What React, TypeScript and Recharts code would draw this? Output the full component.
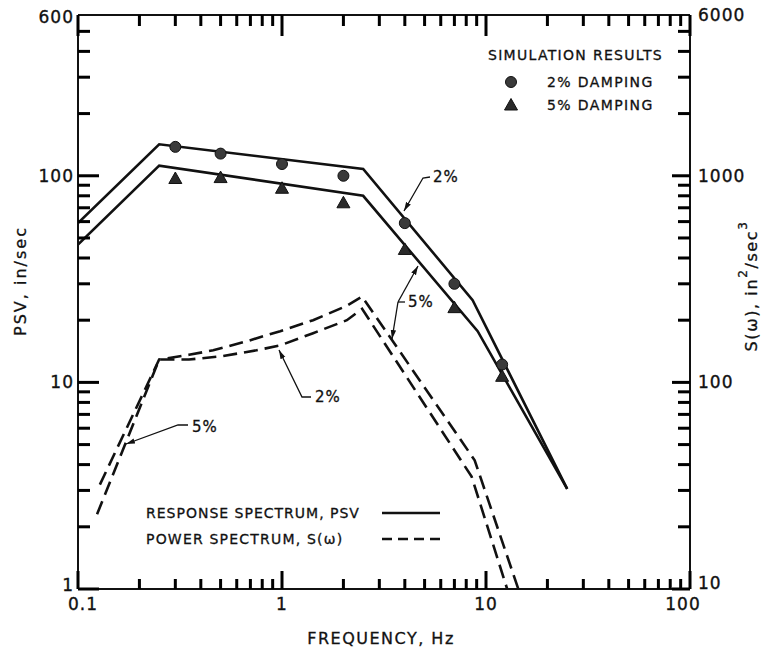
import React from "react";
import { ComposedChart, Line, Scatter, XAxis, YAxis } from "recharts";

// response spectrum PSV (in/sec), straight-line fits
const psv2Freq = [0.1, 0.25, 2.5, 8.6, 25];
const psv2Vals = [59, 142, 108, 25, 3.05];
const psv5Freq = [0.1, 0.25, 2.5, 9.1, 25];
const psv5Vals = [46.5, 112, 80, 17.7, 3.05];

// power spectrum S(w) (in^2/sec^3), read on right axis
const ps5Freq = [0.128, 0.25, 0.35, 0.46, 0.67, 0.98, 1.42, 2.08, 2.47, 8.8, 14.4];
const ps5Vals = [32, 129, 136, 143, 158, 177, 200, 235, 260, 42, 10];
const ps2Freq = [0.124, 0.25, 0.35, 0.51, 0.75, 0.98, 1.42, 2.08, 2.47, 8.5, 12.7];
const ps2Vals = [23, 129, 129, 134, 143, 151, 173, 200, 227, 35, 10];

// simulation results
const simFreq = [0.3, 0.5, 1, 2, 4, 7, 12];
const sim2Vals = [138, 128, 114, 100, 59, 30, 12.2];
const sim5Vals = [97, 98, 87, 74, 44, 23, 10.7];

const xTicks = [
  0.1, 0.2, 0.3, 0.4, 0.5, 0.6, 0.7, 0.8, 0.9,
  1, 2, 3, 4, 5, 6, 7, 8, 9,
  10, 20, 30, 40, 50, 60, 70, 80, 90, 100,
];
const xMajor = [0.1, 1, 10, 100];
const xLabels = ["0.1", "1", "10", "100"];

const leftTicks = [
  1, 2, 3, 4, 5, 6, 7, 8, 9,
  10, 20, 30, 40, 50, 60, 70, 80, 90,
  100, 200, 300, 400, 500, 600,
];
const leftMajor = [1, 10, 100, 600];
const leftLabels = ["1", "10", "100", "600"];

const rightTicks = [
  10, 20, 30, 40, 50, 60, 70, 80, 90,
  100, 200, 300, 400, 500, 600, 700, 800, 900,
  1000, 2000, 3000, 4000, 5000, 6000,
];
const rightMajor = [10, 100, 1000, 6000];
const rightLabels = ["10", "100", "1000", "6000"];

const ink = "#111";
const font = "'DejaVu Sans', sans-serif";

// plot box (matches chart margins + axis sizes below)
const W = 763;
const H = 652;
const M = { top: 5, right: 13, bottom: 33, left: 38 };
const LEFT_W = 40;
const RIGHT_W = 60;
const TOP_H = 10;
const BOTTOM_H = 30;
const PL = M.left + LEFT_W;
const PR = W - M.right - RIGHT_W;
const PT = M.top + TOP_H;
const PB = H - M.bottom - BOTTOM_H;

const X_DOM = [0.1, 100];
const L_DOM = [1, 600];
const R_DOM = [10, 6000];

const logPos = (v: number, d: number[], a: number, b: number) =>
  a + ((Math.log10(v) - Math.log10(d[0])) / (Math.log10(d[1]) - Math.log10(d[0]))) * (b - a);

const zip = (fs: number[], vs: number[]) => fs.map((f, i) => ({ f, v: vs[i] }));

const near = (a: number, b: number) => Math.abs(a - b) < 1e-6 * Math.max(1, b);
const labelOf = (v: number, majors: number[], labels: string[]) => {
  const i = majors.findIndex((m) => near(v, m));
  return i >= 0 ? labels[i] : null;
};

const tickText = {
  fontFamily: font,
  fontSize: 17,
  letterSpacing: 1,
  fill: ink,
  stroke: ink,
  strokeWidth: 0.35,
};

function bottomTick(props: any) {
  const v = props.payload.value;
  const label = labelOf(v, xMajor, xLabels);
  if (!label) return <g />;
  // corner labels sit slightly inside, as in the original
  const dx = near(v, 0.1) ? 5 : near(v, 100) ? -7 : 0;
  return (
    <text x={Number(props.x) + dx} y={Number(props.y) + 15} textAnchor="middle" dominantBaseline="central" {...tickText}>
      {label}
    </text>
  );
}

function leftTick(props: any) {
  const v = props.payload.value;
  const label = labelOf(v, leftMajor, leftLabels);
  if (!label) return <g />;
  const dy = near(v, 1) ? -4 : near(v, 600) ? 2 : 0;
  return (
    <text x={Number(props.x) - 4} y={Number(props.y) + dy} textAnchor="end" dominantBaseline="central" {...tickText}>
      {label}
    </text>
  );
}

function rightTick(props: any) {
  const v = props.payload.value;
  const label = labelOf(v, rightMajor, rightLabels);
  if (!label) return <g />;
  const dy = near(v, 10) ? -6 : 0;
  return (
    <text x={Number(props.x) + 8} y={Number(props.y) + dy} textAnchor="start" dominantBaseline="central" {...tickText}>
      {label}
    </text>
  );
}

function Dot(props: any) {
  const { cx, cy } = props;
  return <circle cx={cx} cy={cy} r={5.5} fill="#3a3a3a" stroke={ink} strokeWidth={1} />;
}

function Tri(props: any) {
  const { cx, cy } = props;
  const pts = `${cx},${cy - 6.5} ${cx - 6.5},${cy + 5} ${cx + 6.5},${cy + 5}`;
  return <polygon points={pts} fill="#2a2a2a" stroke={ink} strokeWidth={1} />;
}

const txt = { fontFamily: font, fill: ink, stroke: ink, strokeWidth: 0.3 } as const;

// inward tick marks along the four sides of the plot box
function TickMarks() {
  const marks: React.ReactNode[] = [];
  const T = 3;
  const bar = (key: string, x: number, y: number, w: number, h: number) => (
    <rect key={key} x={x} y={y} width={w} height={h} fill="#000" />
  );
  xTicks.forEach((t, i) => {
    const x = logPos(t, X_DOM, PL, PR) - T / 2;
    const major = labelOf(t, xMajor, xLabels);
    const lb = major ? 18 : 10;
    const lt = major ? 21 : 11;
    marks.push(bar(`b${i}`, x, PB - lb, T, lb));
    marks.push(bar(`t${i}`, x, PT, T, lt));
  });
  leftTicks.forEach((t, i) => {
    if (near(t, L_DOM[1])) return;
    const y = logPos(t, L_DOM, PB, PT) - T / 2;
    const len = labelOf(t, leftMajor, leftLabels) ? 21 : 12;
    marks.push(bar(`l${i}`, PL, y, len, T));
  });
  rightTicks.forEach((t, i) => {
    if (near(t, R_DOM[1])) return;
    const y = logPos(t, R_DOM, PB, PT) - T / 2;
    const len = labelOf(t, rightMajor, rightLabels) ? 18 : 12;
    marks.push(bar(`r${i}`, PR - len, y, len, T));
  });
  return <g>{marks}</g>;
}

function Overlay() {
  return (
    <svg width={W} height={H} style={{ position: "absolute", left: 0, top: 0, pointerEvents: "none" }}>
      <defs>
        <marker
          id="arr"
          viewBox="0 0 10 6"
          refX={10}
          refY={3}
          markerWidth={9}
          markerHeight={6}
          markerUnits="userSpaceOnUse"
          orient="auto"
        >
          <path d="M0,0 L10,3 L0,6 z" fill={ink} />
        </marker>
      </defs>

      <TickMarks />

      {/* axis titles */}
      <text
        {...txt}
        fontSize={16}
        letterSpacing={2}
        textAnchor="middle"
        dominantBaseline="central"
        transform="translate(20,281) rotate(-90)"
      >
        PSV,  in/sec
      </text>
      <text
        {...txt}
        fontSize={16}
        letterSpacing={1.6}
        textAnchor="middle"
        dominantBaseline="central"
        transform="translate(751,286) rotate(-90)"
      >
        S(ω),  in<tspan dy={-8} fontSize={12}>2</tspan>
        <tspan dy={8}>/sec</tspan>
        <tspan dy={-8} fontSize={12}>3</tspan>
      </text>
      <text {...txt} x={381} y={638} fontSize={16} letterSpacing={1.5} textAnchor="middle" dominantBaseline="central">
        FREQUENCY,  Hz
      </text>

      {/* simulation legend */}
      <text {...txt} x={488} y={55} fontSize={14} letterSpacing={1.3} dominantBaseline="central">
        SIMULATION  RESULTS
      </text>
      <circle cx={511} cy={82} r={5.5} fill="#3a3a3a" stroke={ink} />
      <text {...txt} x={547} y={82} fontSize={14} letterSpacing={1.4} dominantBaseline="central">
        2%  DAMPING
      </text>
      <polygon points="511,98.5 504.5,110 517.5,110" fill="#2a2a2a" stroke={ink} />
      <text {...txt} x={547} y={105} fontSize={14} letterSpacing={1.4} dominantBaseline="central">
        5%  DAMPING
      </text>

      {/* line legend */}
      <text {...txt} x={146} y={513} fontSize={14} letterSpacing={1} dominantBaseline="central">
        RESPONSE  SPECTRUM, PSV
      </text>
      <line x1={382} x2={440} y1={513} y2={513} stroke={ink} strokeWidth={2.6} />
      <text {...txt} x={146} y={539} fontSize={14} letterSpacing={1.2} dominantBaseline="central">
        POWER  SPECTRUM,  S(ω)
      </text>
      <line x1={382} x2={440} y1={539} y2={539} stroke={ink} strokeWidth={2.6} strokeDasharray="10 6" />

      {/* annotations */}
      <text {...txt} x={433} y={177} fontSize={15} letterSpacing={1} dominantBaseline="central">2%</text>
      <polyline points="430,177 423,178 404,211" fill="none" stroke={ink} strokeWidth={1.3} markerEnd="url(#arr)" />

      <text {...txt} x={408} y={302} fontSize={15} letterSpacing={1} dominantBaseline="central">5%</text>
      <polyline points="405,302 398,302" fill="none" stroke={ink} strokeWidth={1.3} />
      <polyline points="398,302 418,266" fill="none" stroke={ink} strokeWidth={1.3} markerEnd="url(#arr)" />
      <polyline points="398,302 392,339" fill="none" stroke={ink} strokeWidth={1.3} markerEnd="url(#arr)" />

      <text {...txt} x={315} y={397} fontSize={15} letterSpacing={1} dominantBaseline="central">2%</text>
      <polyline points="311,397 302,397 279,350" fill="none" stroke={ink} strokeWidth={1.3} markerEnd="url(#arr)" />

      <text {...txt} x={192} y={427} fontSize={15} letterSpacing={1} dominantBaseline="central">5%</text>
      <polyline points="188,425 178,425 126,444" fill="none" stroke={ink} strokeWidth={1.3} markerEnd="url(#arr)" />
    </svg>
  );
}

export default function App() {
  const lineProps = {
    type: "linear" as const,
    dataKey: "v",
    stroke: ink,
    strokeWidth: 2.6,
    dot: false,
    activeDot: false,
    isAnimationActive: false,
  };
  const axisLine = { stroke: ink, strokeWidth: 2 };
  return (
    <div style={{ position: "absolute", left: 0, top: 0, width: W, height: H, background: "#fff" }}>
      <ComposedChart width={W} height={H} margin={M}>
        <XAxis
          dataKey="f"
          type="number"
          scale="log"
          domain={X_DOM}
          allowDataOverflow
          ticks={xTicks}
          interval={0}
          tickSize={0}
          tickMargin={0}
          height={BOTTOM_H}
          axisLine={axisLine}
          tickLine={false}
          tick={bottomTick}
        />
        <XAxis
          xAxisId="top"
          orientation="top"
          dataKey="f"
          type="number"
          scale="log"
          domain={X_DOM}
          allowDataOverflow
          ticks={xTicks}
          interval={0}
          tickSize={0}
          height={TOP_H}
          axisLine={axisLine}
          tickLine={false}
          tick={false}
        />
        <YAxis
          yAxisId="left"
          type="number"
          scale="log"
          domain={L_DOM}
          allowDataOverflow
          ticks={leftTicks}
          interval={0}
          tickSize={0}
          tickMargin={0}
          width={LEFT_W}
          axisLine={axisLine}
          tickLine={false}
          tick={leftTick}
        />
        <YAxis
          yAxisId="right"
          orientation="right"
          type="number"
          scale="log"
          domain={R_DOM}
          allowDataOverflow
          ticks={rightTicks}
          interval={0}
          tickSize={0}
          tickMargin={0}
          width={RIGHT_W}
          axisLine={axisLine}
          tickLine={false}
          tick={rightTick}
        />

        <Line yAxisId="left" data={zip(psv2Freq, psv2Vals)} {...lineProps} />
        <Line yAxisId="left" data={zip(psv5Freq, psv5Vals)} {...lineProps} />
        <Line yAxisId="right" data={zip(ps5Freq, ps5Vals)} {...lineProps} strokeDasharray="14 7" />
        <Line yAxisId="right" data={zip(ps2Freq, ps2Vals)} {...lineProps} strokeDasharray="14 7" />

        <Scatter yAxisId="left" data={zip(simFreq, sim2Vals)} dataKey="v" shape={<Dot />} isAnimationActive={false} />
        <Scatter yAxisId="left" data={zip(simFreq, sim5Vals)} dataKey="v" shape={<Tri />} isAnimationActive={false} />
      </ComposedChart>
      <Overlay />
    </div>
  );
}
